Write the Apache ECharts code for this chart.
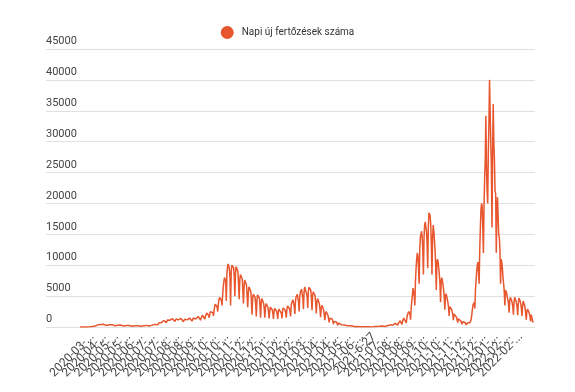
<!DOCTYPE html>
<html><head><meta charset="utf-8">
<script src="https://cdn.jsdelivr.net/npm/echarts@6/dist/echarts.min.js"></script>
<style>html,body{margin:0;padding:0;background:#fff}#c{width:575px;height:392px}</style>
</head><body><div id="c"></div>
<script>
const seriesName = 'Napi új fertőzések száma';
const firstDate = '2020-03-04';
const irregularDateLabels = { '2021-06-27': '2021-6-27' };
const yMin = 0, yMax = 45000, yStep = 5000;

// daily new cases (one row = one week)
const casesWave1 = [
  1, 0, 3, 2, 2, 5, 6,
  8, 4, 12, 15, 17, 20, 25,
  30, 20, 45, 60, 50, 65, 90,
  70, 60, 120, 140, 160, 190, 220,
  300, 250, 380, 440, 500, 460, 420,
  330, 280, 360, 400, 430, 420, 380,
  320, 250, 340, 380, 400, 390, 350,
  300, 220, 320, 360, 380, 360, 330,
  290, 200, 300, 330, 350, 330, 300,
  260, 180, 270, 300, 310, 290, 260,
  240, 160, 240, 260, 280, 260, 240,
  220, 150, 210, 240, 250, 230, 210,
  190, 130, 200, 220, 230, 210, 190,
  180, 120, 190, 210, 220, 200, 180,
  170, 120, 180, 200, 220, 210, 190,
  190, 130, 200, 240, 260, 250, 230,
  220, 160, 260, 300, 330, 320, 300,
  280, 200, 350, 420, 480, 500, 470,
  430, 350, 560, 680, 780, 850, 800,
  700, 550, 800, 950, 1050, 1100, 1000,
  900, 700, 950, 1150, 1300, 1350, 1250
];
const casesWave2 = [
  1100, 850, 1100, 1250, 1350, 1400, 1300,
  1150, 900, 1150, 1300, 1400, 1450, 1350,
  1150, 880, 1150, 1300, 1380, 1420, 1300,
  1100, 850, 1100, 1250, 1350, 1400, 1300,
  1150, 900, 1200, 1350, 1450, 1500, 1400,
  1200, 950, 1250, 1450, 1550, 1600, 1500,
  1300, 1000, 1350, 1550, 1700, 1750, 1650,
  1400, 1100, 1500, 1750, 1900, 2000, 1850,
  1600, 1300, 1750, 2050, 2250, 2350, 2200,
  1900, 1500, 2100, 2500, 2700, 2800, 2650,
  2300, 1800, 2700, 3300, 3700, 4000, 3800,
  3200, 2500, 3700, 4400, 4800, 5000, 4700,
  4300, 3500, 5200, 6500, 7300, 8000, 7800,
  7500, 4200, 8500, 9800, 10200, 10000, 9500,
  8000, 3500, 8800, 10000, 10300, 10100, 9600,
  8000, 5000, 8600, 9800, 10000, 9700, 9000,
  7000, 4500, 7500, 8500, 8700, 8300, 7800,
  6000, 3800, 6500, 7600, 7700, 7300, 6800,
  5000, 3200, 5500, 6500, 6600, 6300, 5800,
  4200, 2000, 4500, 5300, 5400, 5200, 4800,
  3600, 1700, 4300, 5200, 5500, 5300, 4700,
  3300, 1500, 3900, 4600, 4700, 4400, 3800,
  2900, 1500, 3200, 3800, 3900, 3600, 3200,
  2400, 1400, 2700, 3200, 3300, 3100, 2800
];
const casesWave3 = [
  2200, 1300, 2500, 3000, 3100, 2900, 2600,
  2100, 1300, 2500, 2900, 3000, 2900, 2600,
  2200, 1400, 2700, 3100, 3200, 3000, 2700,
  2300, 1500, 2900, 3400, 3500, 3300, 3000,
  2600, 1700, 3400, 4000, 4300, 4400, 4100,
  3300, 2100, 4200, 4900, 5200, 5300, 5000,
  4000, 2500, 4900, 5700, 6000, 6100, 5800,
  4600, 2900, 5600, 6500, 6700, 6800, 6400,
  5000, 3100, 5700, 6400, 6700, 6500, 6000,
  4600, 2700, 5000, 5700, 5900, 5600, 5100,
  3800, 2200, 4000, 4600, 4600, 4300, 3800,
  2900, 1600, 3000, 3500, 3400, 3100, 2700,
  2000, 1100, 2100, 2500, 2400, 2200, 1900,
  1400, 750, 1400, 1700, 1600, 1500, 1300,
  950, 480, 900, 1050, 1000, 900, 800,
  600, 300, 560, 650, 620, 560, 480,
  360, 180, 340, 400, 380, 340, 290,
  220, 100, 210, 260, 250, 220, 190,
  150, 60, 140, 170, 160, 140, 120,
  100, 40, 90, 110, 100, 90, 80,
  70, 30, 60, 80, 70, 65, 55,
  50, 20, 50, 60, 60, 55, 45
];
const casesWave4 = [
  40, 15, 40, 55, 60, 60, 50,
  45, 20, 50, 70, 80, 85, 75,
  65, 30, 75, 100, 120, 130, 110,
  100, 50, 110, 150, 170, 180, 160,
  140, 80, 170, 220, 250, 260, 230,
  200, 120, 250, 330, 370, 400, 360,
  320, 180, 400, 520, 600, 640, 580,
  500, 280, 620, 800, 920, 1000, 900,
  780, 420, 950, 1250, 1450, 1600, 1450,
  1250, 650, 1500, 2000, 2300, 2500, 2300,
  2100, 1200, 3000, 4200, 5200, 6300, 6000,
  5000, 3500, 7500, 9500, 11000, 12000, 11500,
  9500, 7000, 12500, 14500, 15000, 15500, 14500,
  12500, 8500, 14500, 16500, 17000, 16700, 15500,
  13500, 9500, 16000, 18500, 18800, 18000, 16500,
  13000, 8500, 14500, 16500, 15500, 14000, 12500,
  10000, 6000, 10500, 11000, 10500, 9500, 8500,
  7000, 4000, 7500, 8000, 7500, 6800, 6000,
  4800, 2800, 5000, 5400, 5000, 4500, 4000,
  3200, 1800, 3300, 3500, 3200, 2900, 2500,
  2000, 1100, 2100, 2200, 2000, 1800, 1600,
  1300, 700, 1300, 1400, 1300, 1200, 1000,
  900, 450, 850, 950, 900, 820, 720,
  620, 350, 600, 680, 650, 600, 560
];
const casesWave5 = [
  700, 500, 1200, 2000, 2800, 3600, 3900,
  4000, 3000, 6000, 7500, 9000, 10000, 10500,
  9000, 7000, 12500, 16000, 19000, 20000, 19500,
  16000, 12000, 19500, 24000, 27000, 34200, 26000,
  22000, 20000, 28000, 33000, 40000, 35000, 30000,
  26000, 16100, 28000, 36100, 30000, 27000, 22000,
  21600, 12000, 19000, 21000, 18000, 15000, 14500,
  12500, 7000, 11000, 10500, 9500, 8000, 7000,
  5800, 3500, 6000, 6200, 5500, 4800, 4400,
  3800, 2300, 4200, 4800, 4600, 4300, 3900,
  3300, 2000, 4000, 4800, 4700, 4300, 3800,
  3200, 1900, 3800, 4700, 4500, 4200, 3700,
  3000, 1800, 3400, 4200, 4000, 3600, 3100,
  2200, 1200, 2500, 2900, 2800, 2500, 2200,
  1800, 900, 2000, 2300, 1900, 700
];

const cases = [].concat(casesWave1, casesWave2, casesWave3, casesWave4, casesWave5);

// one category per day, starting at firstDate
const dates = [];
const t0 = Date.parse(firstDate + 'T00:00:00Z');
for (let i = 0; i < cases.length; i++) {
  let s = new Date(t0 + i * 86400000).toISOString().slice(0, 10);
  if (irregularDateLabels[s]) s = irregularDateLabels[s];
  dates.push(s);
}

const lineColor = '#e8562e';
const chart = echarts.init(document.getElementById('c'), null, { renderer: 'canvas' });
chart.setOption({
  animation: false,
  textStyle: { fontFamily: 'Roboto, Arial, sans-serif' },
  legend: {
    top: 21, left: 'center', icon: 'circle', itemWidth: 13, itemHeight: 13, itemGap: 8,
    textStyle: { fontSize: 10, color: '#333', padding: [0, 0, 0, 3] }, data: [seriesName]
  },
  grid: [
    { left: 46, right: 40, top: 49, bottom: 65 },
    { left: 80, right: 42, top: 49, bottom: 65 }
  ],
  xAxis: [
    { gridIndex: 0, type: 'value', show: false, min: 0, max: 1 },
    {
      gridIndex: 1, type: 'category', data: dates, boundaryGap: false,
      axisLine: { show: false }, axisTick: { show: false },
      axisLabel: {
        interval: 19, rotate: 45, fontSize: 12, color: '#444', margin: 8,
        formatter: v => v.length > 9 ? v.slice(0, 8) + '...' : v
      }
    }
  ],
  yAxis: [
    {
      gridIndex: 0, type: 'value', min: yMin, max: yMax, interval: yStep,
      axisLine: { show: false }, axisTick: { show: false },
      splitLine: { lineStyle: { color: '#e0e0e0', width: 1 } },
      axisLabel: { inside: true, align: 'left', verticalAlign: 'bottom', margin: 0,
        padding: [0, 0, 2, 0], fontSize: 11, color: '#444', formatter: v => String(v) }
    },
    { gridIndex: 1, type: 'value', min: yMin, max: yMax, show: false, splitLine: { show: false } }
  ],
  series: [{
    name: seriesName, type: 'line', xAxisIndex: 1, yAxisIndex: 1, data: cases,
    showSymbol: false, symbol: 'circle',
    lineStyle: { width: 1.5, color: lineColor }, itemStyle: { color: lineColor }
  }]
});
</script></body></html>
